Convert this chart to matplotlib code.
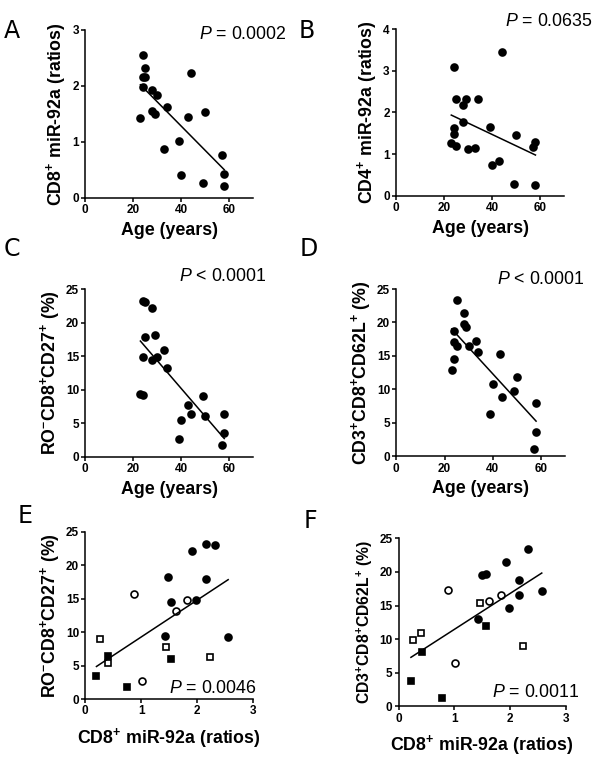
import numpy as np
import matplotlib
matplotlib.use('Agg')
import matplotlib.pyplot as plt

plt.rcParams['font.family'] = ['Liberation Sans', 'DejaVu Sans']
plt.rcParams['mathtext.fontset'] = 'custom'
plt.rcParams['mathtext.rm'] = 'Liberation Sans'
plt.rcParams['mathtext.it'] = 'Liberation Sans:italic'
plt.rcParams['mathtext.bf'] = 'Liberation Sans:bold'

# ages of the 21 donors (same order in panels A-D)
age = [23, 24, 24, 24, 25, 25, 28, 28, 29, 30, 33, 34, 39, 40, 43, 44, 49, 50, 57, 58, 58]
cd8_mir = [1.43, 2.56, 2.16, 1.99, 2.32, 2.16, 1.92, 1.55, 1.50, 1.84, 0.88, 1.63,
           1.01, 0.41, 1.45, 2.23, 0.27, 1.54, 0.76, 0.42, 0.21]
cd4_mir = [1.26, 3.09, 1.62, 1.48, 2.32, 1.20, 2.17, 1.76, 2.32, 1.13, 1.15, 2.32,
           1.64, 0.74, 0.84, 3.45, 0.27, 1.46, 1.18, 1.30, 0.26]
ro_cd27 = [9.4, 23.2, 14.9, 9.2, 23.0, 17.8, 22.1, 14.4, 18.2, 14.8, 15.9, 13.2,
           2.7, 5.4, 7.75, 6.3, 9.0, 6.1, 1.8, 6.3, 3.5]
cd62l = [12.9, 18.7, 17.1, 14.6, 23.4, 16.5, 21.4, 19.8, 19.3, 16.5, 17.2, 15.6,
         6.3, 10.8, 15.3, 8.8, 9.7, 11.9, 1.1, 8.0, 3.6]

# panel E groups: (miR-92a, RO-CD8+CD27+)
e_fc_x = [2.17, 2.33, 1.92, 1.49, 2.16, 1.54, 1.99, 1.42, 2.56]
e_fc_y = [23.2, 23.0, 22.1, 18.2, 17.9, 14.5, 14.8, 9.4, 9.2]
e_oc_x = [0.87, 1.63, 1.83, 1.01]
e_oc_y = [15.7, 13.2, 14.8, 2.7]
e_fs_x = [0.41, 0.20, 0.75, 1.54]
e_fs_y = [6.4, 3.5, 1.8, 6.0]
e_os_x = [0.26, 0.40, 1.45, 2.24]
e_os_y = [8.9, 5.4, 7.8, 6.3]

# panel F groups: (miR-92a, CD3+CD8+CD62L+)
f_fc_x = [2.33, 1.93, 1.50, 1.56, 2.17, 2.17, 2.57, 1.99, 1.43]
f_fc_y = [23.4, 21.4, 19.6, 19.7, 18.8, 16.6, 17.1, 14.7, 13.0]
f_oc_x = [0.88, 1.63, 1.84, 1.01]
f_oc_y = [17.3, 15.6, 16.6, 6.4]
f_fs_x = [1.56, 0.42, 0.22, 0.77]
f_fs_y = [12.0, 8.1, 3.8, 1.2]
f_os_x = [0.26, 0.40, 1.46, 2.24]
f_os_y = [9.8, 10.9, 15.4, 8.9]

W, H = 600, 759
fig = plt.figure(figsize=(W / 100, H / 100), dpi=100)


def px_axes(left, top, right, bottom):
    return fig.add_axes([left / W, 1 - bottom / H, (right - left) / W, (bottom - top) / H])


def style(ax, xlim, xticks, ylim, yticks):
    ax.set_xlim(*xlim)
    ax.set_ylim(*ylim)
    ax.set_xticks(xticks)
    ax.set_yticks(yticks)
    for s in ['top', 'right']:
        ax.spines[s].set_visible(False)
    for s in ['left', 'bottom']:
        ax.spines[s].set_linewidth(1.1)
    ax.tick_params(direction='out', length=3, width=1.1, pad=1.5, labelsize=8.5)
    for lab in ax.get_xticklabels() + ax.get_yticklabels():
        lab.set_fontweight('bold')


def fit_line(ax, x, y):
    x = np.asarray(x, float)
    y = np.asarray(y, float)
    k, b = np.polyfit(x, y, 1)
    xs = np.array([x.min(), x.max()])
    ax.plot(xs, k * xs + b, color='black', lw=1.1)


def dots(ax, x, y, marker='o', filled=True, ms=5):
    ax.plot(x, y, linestyle='none', marker=marker, ms=ms,
            mfc='black' if filled else 'white', mec='black', mew=1.2, clip_on=False)


def p_text(ax, x, y, s):
    ax.text(x, y, s, transform=ax.transAxes, ha='right', va='center', fontsize=12.8)


lab_kw = dict(fontsize=12.8, fontweight='bold')

# A
ax = px_axes(85.3, 30, 253, 198)
style(ax, (0, 70), [0, 20, 40, 60], (0, 3), [0, 1, 2, 3])
dots(ax, age, cd8_mir)
fit_line(ax, age, cd8_mir)
ax.set_xlabel('Age (years)', labelpad=4, **lab_kw)
ax.set_ylabel(r'CD8$^{\mathbf{+}}$ miR-92a (ratios)', labelpad=3, **lab_kw)
p_text(ax, 1.2, 0.975, r'$\it{P}$ = 0.0002')

# B
ax = px_axes(396, 29.3, 564.3, 195.7)
style(ax, (0, 70), [0, 20, 40, 60], (0, 4), [0, 1, 2, 3, 4])
dots(ax, age, cd4_mir)
fit_line(ax, age, cd4_mir)
ax.set_xlabel('Age (years)', labelpad=4, **lab_kw)
ax.set_ylabel(r'CD4$^{\mathbf{+}}$ miR-92a (ratios)', labelpad=3, **lab_kw)
p_text(ax, 1.169, 1.044, r'$\it{P}$ = 0.0635')

# C
ax = px_axes(85.3, 289, 253, 456.7)
style(ax, (0, 70), [0, 20, 40, 60], (0, 25), [0, 5, 10, 15, 20, 25])
dots(ax, age, ro_cd27)
fit_line(ax, age, ro_cd27)
ax.set_xlabel('Age (years)', labelpad=4, **lab_kw)
ax.set_ylabel(r'RO$^{\mathbf{-}}$CD8$^{\mathbf{+}}$CD27$^{\mathbf{+}}$ (%)', labelpad=3, **lab_kw)
p_text(ax, 1.082, 1.073, r'$\it{P}$ < 0.0001')

# D
ax = px_axes(396.3, 289, 565, 456.3)
style(ax, (0, 70), [0, 20, 40, 60], (0, 25), [0, 5, 10, 15, 20, 25])
dots(ax, age, cd62l)
fit_line(ax, age, cd62l)
ax.set_xlabel('Age (years)', labelpad=4, **lab_kw)
ax.set_ylabel(r'CD3$^{\mathbf{+}}$CD8$^{\mathbf{+}}$CD62L$^{\mathbf{+}}$ (%)', labelpad=3, **lab_kw)
p_text(ax, 1.113, 1.054, r'$\it{P}$ < 0.0001')

# E
ax = px_axes(85.3, 531.7, 252.7, 699)
style(ax, (0, 3), [0, 1, 2, 3], (0, 25), [0, 5, 10, 15, 20, 25])
dots(ax, e_fc_x, e_fc_y)
dots(ax, e_oc_x, e_oc_y, filled=False)
dots(ax, e_fs_x, e_fs_y, marker='s', ms=4.5)
dots(ax, e_os_x, e_os_y, marker='s', filled=False, ms=4.5)
fit_line(ax, e_fc_x + e_oc_x + e_fs_x + e_os_x, e_fc_y + e_oc_y + e_fs_y + e_os_y)
ax.set_xlabel(r'CD8$^{\mathbf{+}}$ miR-92a (ratios)', labelpad=6, **lab_kw)
ax.set_ylabel(r'RO$^{\mathbf{-}}$CD8$^{\mathbf{+}}$CD27$^{\mathbf{+}}$ (%)', labelpad=3, **lab_kw)
p_text(ax, 1.024, 0.06, r'$\it{P}$ = 0.0046')

# F
ax = px_axes(398.7, 538.3, 565.7, 706.3)
style(ax, (0, 3), [0, 1, 2, 3], (0, 25), [0, 5, 10, 15, 20, 25])
dots(ax, f_fc_x, f_fc_y)
dots(ax, f_oc_x, f_oc_y, filled=False)
dots(ax, f_fs_x, f_fs_y, marker='s', ms=4.5)
dots(ax, f_os_x, f_os_y, marker='s', filled=False, ms=4.5)
fit_line(ax, f_fc_x + f_oc_x + f_fs_x + f_os_x, f_fc_y + f_oc_y + f_fs_y + f_os_y)
ax.set_xlabel(r'CD8$^{\mathbf{+}}$ miR-92a (ratios)', labelpad=6, **lab_kw)
ax.set_ylabel(r'CD3$^{\mathbf{+}}$CD8$^{\mathbf{+}}$CD62L$^{\mathbf{+}}$ (%)', labelpad=3,
              fontsize=11.3, fontweight='bold')
p_text(ax, 1.085, 0.08, r'$\it{P}$ = 0.0011')

# panel letters
letter_kw = dict(fontsize=17, family='DejaVu Sans', va='top', ha='left')
for lt, x, y in [('A', 4, 19), ('B', 299, 19), ('C', 4, 237), ('D', 300, 237),
                 ('E', 18, 504), ('F', 304, 509)]:
    fig.text(x / W, 1 - y / H, lt, **letter_kw)

fig.savefig('out.png', dpi=100)
